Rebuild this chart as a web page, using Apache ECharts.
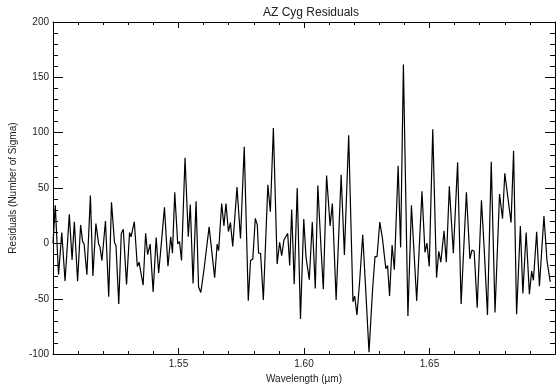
<!DOCTYPE html>
<html>
<head>
<meta charset="utf-8">
<script src="https://cdn.jsdelivr.net/npm/echarts@6/dist/echarts.min.js"></script>
<style>html,body{margin:0;padding:0;background:#fff}#c{width:558px;height:389px}</style>
</head>
<body>
<div id="c"></div>
<script>
// Data
var wavelength = [1.5000,1.5009,1.5022,1.5035,1.5048,1.5065,1.5076,1.5085,1.5098,1.5110,1.5118,1.5124,1.5135,1.5149,1.5159,1.5171,1.5182,1.5187,1.5195,1.5209,1.5222,1.5233,1.5245,1.5251,1.5262,1.5272,1.5280,1.5285,1.5293,1.5305,1.5311,1.5324,1.5336,1.5343,1.5359,1.5369,1.5377,1.5387,1.5399,1.5411,1.5421,1.5432,1.5437,1.5444,1.5458,1.5469,1.5476,1.5485,1.5497,1.5504,1.5512,1.5526,1.5539,1.5547,1.5558,1.5570,1.5580,1.5589,1.5602,1.5607,1.5622,1.5644,1.5654,1.5660,1.5672,1.5681,1.5689,1.5699,1.5707,1.5716,1.5733,1.5747,1.5762,1.5778,1.5787,1.5796,1.5806,1.5814,1.5819,1.5827,1.5838,1.5856,1.5866,1.5878,1.5893,1.5903,1.5911,1.5920,1.5927,1.5935,1.5943,1.5951,1.5961,1.5973,1.5986,1.5999,1.6008,1.6021,1.6033,1.6045,1.6055,1.6067,1.6077,1.6090,1.6104,1.6113,1.6128,1.6148,1.6161,1.6178,1.6195,1.6202,1.6211,1.6222,1.6234,1.6246,1.6259,1.6273,1.6283,1.6291,1.6302,1.6312,1.6317,1.6326,1.6333,1.6341,1.6351,1.6360,1.6375,1.6385,1.6396,1.6414,1.6428,1.6449,1.6470,1.6482,1.6490,1.6499,1.6513,1.6528,1.6537,1.6545,1.6558,1.6567,1.6579,1.6595,1.6612,1.6626,1.6647,1.6661,1.6669,1.6678,1.6690,1.6707,1.6718,1.6731,1.6746,1.6761,1.6779,1.6791,1.6800,1.6825,1.6835,1.6847,1.6862,1.6872,1.6885,1.6898,1.6907,1.6914,1.6927,1.6938,1.6956,1.6968,1.6981];
var residuals = [0,34.5,-28.3,9.8,-33.9,26.2,-14.9,19.6,-34.2,16.7,1.8,-0.6,-28.3,43.2,-29.5,17.9,-0.6,-3,-15.5,20.2,-48.2,37.2,0.9,-2.1,-54.8,8.9,12.8,11.3,-37.2,9.8,6,19.6,-20.8,-17,-37.8,9.2,-10.1,-0.6,-43.8,5.4,-26.8,0.9,2.4,32.7,-20.5,6,-8.9,46.1,-0.5,1.6,-15.5,77.4,6,35.1,-36.3,38.1,-39.3,-44.3,-22.9,-24.4,14.9,-30.9,-0.6,-6.5,36,15.8,36,10.7,18.8,-2.7,50.9,4.5,87.2,-51.8,-15.5,-14,22.6,16.7,-8.9,-8.9,-51.2,53,28.6,104.2,-18.5,0.9,-11,3,3,9.2,-19.9,30.7,-36.9,50,-68.2,22,-12.5,-32.7,19.3,-40.8,52.4,-0.6,-41.4,61.3,15.8,36,-51.2,61.9,-10.4,97.6,-52.7,-47.6,-64.6,-33.3,7.7,-42.3,-98.2,-42.3,-11.9,-11.9,19.3,5.4,3.9,-22.9,-19.9,-47.6,-1.5,-23.8,70.2,-3.6,161.6,-65.5,34.5,-52.1,47,-8,0.3,-20.8,103,-30.9,-7.1,-17,11.3,-17,51.5,-8.9,73.2,-54.8,46.1,-14,-6,-7.1,-58,39,-5,-64.6,73.8,-62.5,44.6,22.3,63.4,18.8,83.6,-64,15.8,-45.2,9.8,-45.8,-25,-33.3,10.4,-38.7,24.7,-15.5,-34.8];
var xLabeled = ['1.55','1.60','1.65'];
var titleText = 'AZ Cyg Residuals';
var xName = 'Wavelength (\u00b5m)';
var yName = 'Residuals (Number of Sigma)';

var pts = wavelength.map(function(w,i){return [w, residuals[i]];});
var chart = echarts.init(document.getElementById('c'), null, {renderer:'canvas'});
var font = 'Liberation Sans, Arial, Helvetica, sans-serif';
var txt = '#222';
function axLine(){ return {show:true, onZero:false, lineStyle:{color:'#000', width:1}}; }
function xAx(pos, labels){
  return {
    type:'value', position:pos, min:1.5, max:1.7, interval:0.05,
    axisLine:axLine(),
    axisTick:{show:true, inside:true, length:6, lineStyle:{color:'#000'}},
    minorTick:{show:true, splitNumber:5, length:3, lineStyle:{color:'#000'}},
    splitLine:{show:false}, minorSplitLine:{show:false},
    axisLabel:{show:labels, margin:5, color:txt, fontSize:10, fontFamily:font,
      formatter:function(v){var s=v.toFixed(2);return xLabeled.indexOf(s)>=0?s:'';}},
    name: labels ? xName : '', nameLocation:'middle', nameGap:14,
    nameTextStyle:{color:txt, fontSize:10, fontFamily:font}
  };
}
function yAx(pos, labels){
  return {
    type:'value', position:pos, min:-100, max:200, interval:50,
    axisLine:axLine(),
    axisTick:{show:true, inside:true, length:10, lineStyle:{color:'#000'}},
    minorTick:{show:true, splitNumber:5, length:5, lineStyle:{color:'#000'}},
    splitLine:{show:false}, minorSplitLine:{show:false},
    axisLabel:{show:labels, margin:4, color:txt, fontSize:10, fontFamily:font},
    name: labels ? yName : '', nameLocation:'middle', nameGap:35, nameRotate:90,
    nameTextStyle:{color:txt, fontSize:10, fontFamily:font}
  };
}
chart.setOption({
  animation:false,
  backgroundColor:'#fff',
  title:{text:titleText, left:306, top:2, textAlign:'center',
    textStyle:{color:txt, fontSize:12, fontWeight:'normal', fontFamily:font}},
  grid:{left:52, top:22, width:510, height:336, containLabel:false},
  xAxis:[xAx('bottom', true), xAx('top', false)],
  yAxis:[yAx('left', true), yAx('right', false)],
  series:[{type:'line', data:pts, xAxisIndex:0, yAxisIndex:0, showSymbol:false,
    lineStyle:{color:'#000', width:1.2}, smooth:false, clip:true}]
});
</script>
</body>
</html>
